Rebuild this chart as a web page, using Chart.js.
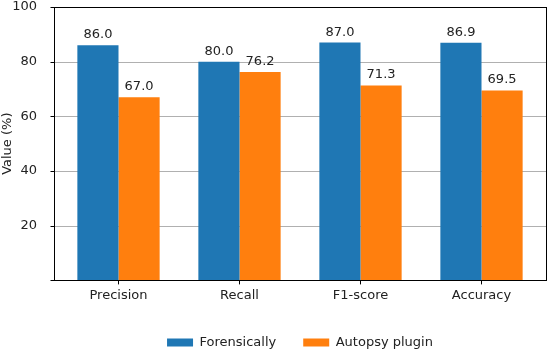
<!DOCTYPE html>
<html><head><meta charset="utf-8">
<script src="https://cdn.jsdelivr.net/npm/chart.js@4.4.0/dist/chart.umd.min.js"></script>
<style>html,body{margin:0;padding:0;background:#fff}#wrap{width:550px;height:350px}</style>
</head><body><div id="wrap"><canvas id="c" width="550" height="350"></canvas></div>
<script>
const categories = ["Precision", "Recall", "F1-score", "Accuracy"];
const forensically = [86.0, 80.0, 87.0, 86.9];
const autopsy = [67.0, 76.2, 71.3, 69.5];
const yTicks = [0, 20, 40, 60, 80, 100];

const FONT = "'DejaVu Sans', sans-serif";
Chart.defaults.font.family = FONT;
Chart.defaults.font.size = 13;
Chart.defaults.color = '#222';
const OUT = 4; // frame outset beyond chart area (axes margins)

const labelPlugin = {
  id: 'vals',
  afterDatasetsDraw(chart) {
    const ctx = chart.ctx;
    ctx.save();
    ctx.font = "13px " + FONT;
    ctx.fillStyle = '#222';
    ctx.textAlign = 'center';
    ctx.textBaseline = 'alphabetic';
    chart.data.datasets.forEach((ds, i) => {
      chart.getDatasetMeta(i).data.forEach((bar, j) => {
        ctx.fillText(ds.data[j].toFixed(1), bar.x, bar.y - 7);
      });
    });
    ctx.restore();
  }
};
const framePlugin = {
  id: 'frame',
  afterLayout(chart) {
    const a = chart.chartArea, lg = chart.legend;
    if (lg) {
      const w = lg.right - lg.left; const c = (a.left + a.right) / 2;
      lg.left = c - w / 2; lg.right = c + w / 2;
      lg.top += 3; lg.bottom += 3;
    }
  },
  beforeDatasetsDraw(chart) {
    const a = chart.chartArea, ctx = chart.ctx, y = chart.scales.y;
    ctx.save();
    ctx.strokeStyle = '#b0b0b0';
    ctx.lineWidth = 1;
    yTicks.forEach(v => {
      if (v === 0 || v === 100) return;
      const py = Math.round(y.getPixelForValue(v)) + 0.5;
      ctx.beginPath(); ctx.moveTo(a.left - OUT, py); ctx.lineTo(a.right + OUT, py); ctx.stroke();
    });
    ctx.restore();
  },
  afterDraw(chart) {
    const a = chart.chartArea, ctx = chart.ctx, y = chart.scales.y;
    const L = Math.round(a.left - OUT) + 0.5, R = Math.round(a.right + OUT) + 0.5;
    const T = Math.round(a.top) + 0.5, B = Math.round(a.bottom) + 0.5;
    ctx.save();
    ctx.strokeStyle = '#000';
    ctx.lineWidth = 1;
    ctx.strokeRect(L, T, R - L, B - T);
    yTicks.forEach(v => {
      const py = Math.round(y.getPixelForValue(v)) + 0.5;
      ctx.beginPath(); ctx.moveTo(L - 4, py); ctx.lineTo(L, py); ctx.stroke();
    });
    ctx.restore();
  }
};

new Chart(document.getElementById('c'), {
  type: 'bar',
  data: {
    labels: categories,
    datasets: [
      { label: 'Forensically', data: forensically, backgroundColor: '#1f77b4', categoryPercentage: 0.68, barPercentage: 1.0 },
      { label: 'Autopsy plugin', data: autopsy, backgroundColor: '#ff7f0e', categoryPercentage: 0.68, barPercentage: 1.0 }
    ]
  },
  options: {
    responsive: false,
    animation: false,
    devicePixelRatio: 1,
    layout: { padding: { left: 0, right: 8, top: 7, bottom: -6 } },
    plugins: {
      legend: {
        position: 'bottom',
        labels: { boxWidth: 26, boxHeight: 8, font: { size: 13 }, padding: 27, color: '#222' }
      },
      tooltip: { enabled: false }
    },
    scales: {
      x: {
        afterFit(s) { s.paddingLeft = 0; s.paddingRight = 0; },
        grid: { display: true, drawOnChartArea: false, drawTicks: true, tickLength: 4, color: '#000', offset: false },
        border: { display: false },
        ticks: { font: { size: 13 }, color: '#222', padding: 3 }
      },
      y: {
        min: 0, max: 100,
        afterBuildTicks(s) { s.ticks = yTicks.map(v => ({ value: v })); },
        afterFit(s) { s.width = 58; s.paddingTop = 0; s.paddingBottom = 0; },
        grid: { display: false },
        border: { display: false },
        ticks: { font: { size: 13 }, color: '#222', padding: 13, callback: v => v === 0 ? '' : v },
        title: { display: true, text: 'Value (%)', font: { size: 13 }, color: '#222', padding: { top: 0, bottom: 4 } }
      }
    }
  },
  plugins: [labelPlugin, framePlugin]
});
</script></body></html>
